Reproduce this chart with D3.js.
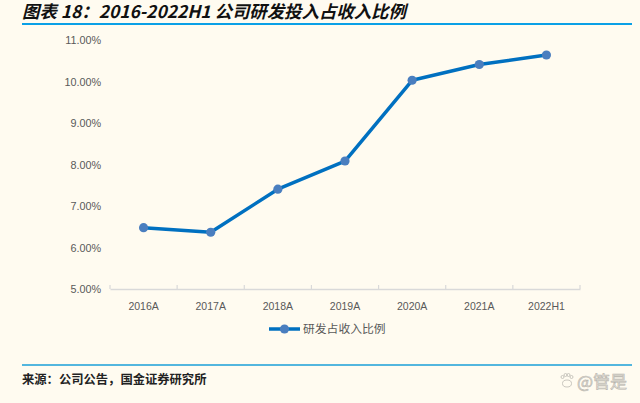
<!DOCTYPE html>
<html><head><meta charset="utf-8">
<script src="https://cdn.jsdelivr.net/npm/d3@7"></script>
<style>html,body{margin:0;padding:0;background:#FFFBF0;}svg{display:block;}</style>
</head><body>
<svg id="c" width="640" height="403"></svg>
<script>
const categories = ["2016A","2017A","2018A","2019A","2020A","2021A","2022H1"];
const values = [6.48, 6.37, 7.41, 8.09, 10.04, 10.42, 10.65];
const yTicks = [5, 6, 7, 8, 9, 10, 11];
const seriesName = "研发占收入比例";
const titleText = "图表 18：2016-2022H1 公司研发投入占收入比例";
const sourceText = "来源：公司公告，国金证券研究所";
const watermark = "@管是";

const svg = d3.select("#c");
svg.append("rect").attr("width",640).attr("height",403).attr("fill","#FFFBF0");

const cjk = "'Noto Sans CJK SC','Noto Sans',sans-serif";
const lat = "'Liberation Sans','DejaVu Sans',sans-serif";

// title
svg.append("text").attr("x",22).attr("y",18)
  .attr("font-family",cjk).attr("font-size",17.4).attr("font-weight","bold")
  .attr("font-style","italic").attr("fill","#111").text(titleText);
svg.append("line").attr("x1",22).attr("x2",632).attr("y1",24).attr("y2",24)
  .attr("stroke","#0AA0E6").attr("stroke-width",2);

const x = d3.scaleBand().domain(categories).range([110,580]).padding(0);
const y = d3.scaleLinear().domain([5,11]).range([289,40.5]);

// y axis labels
const ya = svg.append("g").attr("transform","translate(104,0)")
  .call(d3.axisLeft(y).tickValues(yTicks).tickSize(0).tickFormat(d=>d3.format(".2f")(d)+"%"));
ya.select(".domain").remove();
ya.selectAll("text").attr("font-family",lat).attr("font-size",10.8).attr("fill","#595959").attr("x",-3);

// x axis
const xa = svg.append("g").attr("transform","translate(0,289)")
  .call(d3.axisBottom(x).tickSize(0).tickPadding(14));
xa.select(".domain").attr("stroke","#D9D9D9").attr("stroke-width",1.5);
xa.selectAll("text").attr("font-family",lat).attr("font-size",10.5).attr("fill","#595959");
const bounds = categories.map(c=>x(c)).concat([x.range()[1]]);
xa.selectAll("line.bt").data(bounds).join("line").attr("class","bt")
  .attr("x1",d=>d).attr("x2",d=>d).attr("y1",0).attr("y2",-4)
  .attr("stroke","#D9D9D9").attr("stroke-width",1.2);

// line
const cx = c => x(c) + x.bandwidth()/2;
const line = d3.line().x((d,i)=>cx(categories[i])).y(d=>y(d));
svg.append("path").datum(values).attr("d",line).attr("fill","none")
  .attr("stroke","#0070C0").attr("stroke-width",3.5).attr("stroke-linejoin","round");
svg.selectAll("circle.pt").data(values).join("circle").attr("class","pt")
  .attr("cx",(d,i)=>cx(categories[i])).attr("cy",d=>y(d)).attr("r",4.6)
  .attr("fill","#4A7EBF");

// legend
const lg = svg.append("g").attr("transform","translate(269,329)");
lg.append("line").attr("x1",0).attr("x2",31).attr("y1",0).attr("y2",0)
  .attr("stroke","#0070C0").attr("stroke-width",3.5);
lg.append("circle").attr("cx",15.5).attr("cy",0).attr("r",4.6).attr("fill","#4A7EBF");
lg.append("text").attr("x",34).attr("y",4).attr("font-family",cjk).attr("font-size",11.8)
  .attr("fill","#595959").text(seriesName);

// bottom rule and source
svg.append("line").attr("x1",22).attr("x2",632).attr("y1",365).attr("y2",365)
  .attr("stroke","#1A9FD8").attr("stroke-width",1.5);
svg.append("text").attr("x",22).attr("y",384).attr("font-family",cjk).attr("font-size",12.3)
  .attr("font-weight","bold").attr("fill","#222").text(sourceText);

// watermark
svg.append("text").attr("x",577).attr("y",388).attr("font-family",cjk).attr("font-size",17)
  .attr("fill","#E6E2DA").attr("stroke","#B8B5AE").attr("stroke-width",0.6).text(watermark);
const paw = svg.append("g").attr("transform","translate(567,381)").attr("fill","none").attr("stroke","#BDBAB3").attr("stroke-width",0.8);
paw.append("ellipse").attr("cx",0).attr("cy",2.5).attr("rx",4.5).attr("ry",3.5);
[[-4.5,-4],[-1.5,-6],[1.5,-6],[4.5,-4]].forEach(p=>paw.append("circle").attr("cx",p[0]).attr("cy",p[1]).attr("r",1.5));
</script>
</body></html>
